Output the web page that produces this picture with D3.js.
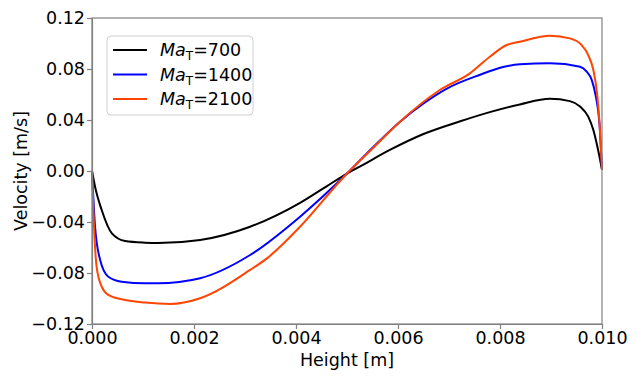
<!DOCTYPE html>
<html>
<head>
<meta charset="utf-8">
<script src="https://cdn.jsdelivr.net/npm/d3@7"></script>
<style>
  body { margin: 0; background: #fff; }
  svg { font-family: "DejaVu Sans", sans-serif; }
  .axis text { font-size: 17.5px; fill: #000; }
  .axis path, .axis line { stroke: #808080; stroke-width: 1.2; }
</style>
</head>
<body>
<svg id="chart" width="637" height="376"></svg>
<script>
// series data (height in m, velocity in m/s)
const height700 = [0, 0.00006, 0.00019, 0.00039, 0.00065, 0.00104, 0.0013, 0.00212, 0.0031, 0.00408, 0.0046, 0.005, 0.00525, 0.00584, 0.0065, 0.00722, 0.0078, 0.00839, 0.00898, 0.00937, 0.00957, 0.00973, 0.00983, 0.00991, 0.01];
const vel700 = [0, -0.0123, -0.0306, -0.0489, -0.0549, -0.0562, -0.0565, -0.0541, -0.0437, -0.025, -0.012, -0.002, 0.0034, 0.0165, 0.029, 0.039, 0.0462, 0.0522, 0.0566, 0.0548, 0.0506, 0.0426, 0.0321, 0.019, 0.001];

const height1400 = [0, 0.00006, 0.00016, 0.00032, 0.00058, 0.00104, 0.0013, 0.00212, 0.0031, 0.00408, 0.005, 0.00552, 0.00604, 0.0065, 0.00695, 0.00761, 0.00806, 0.00839, 0.00898, 0.00957, 0.0097, 0.0098, 0.00988, 0.00995, 0.01];
const vel1400 = [0, -0.0437, -0.0698, -0.0829, -0.0868, -0.0881, -0.0881, -0.0841, -0.0659, -0.0358, -0.002, 0.019, 0.0387, 0.053, 0.0645, 0.0755, 0.0815, 0.0838, 0.0845, 0.0818, 0.0779, 0.0713, 0.0583, 0.0374, 0.001];

const height2100 = [0, 0.00004, 0.00009, 0.00019, 0.00032, 0.00058, 0.00104, 0.00153, 0.00212, 0.0031, 0.00343, 0.00408, 0.00486, 0.005, 0.00552, 0.00604, 0.00682, 0.00741, 0.0078, 0.00813, 0.00839, 0.00898, 0.00937, 0.0096, 0.00973, 0.00983, 0.00991, 0.00996, 0.01];
const vel2100 = [0, -0.0437, -0.075, -0.0907, -0.0972, -0.1006, -0.1032, -0.1043, -0.0998, -0.0776, -0.0685, -0.0437, -0.008, -0.002, 0.0185, 0.0387, 0.0635, 0.0766, 0.0896, 0.0988, 0.1014, 0.1061, 0.104, 0.0988, 0.0909, 0.0792, 0.0583, 0.0321, 0.001];

const seriesNames = ["700", "1400", "2100"];
const seriesColors = ["#000000", "#0000ff", "#ff4500"];

const xTicks = [0, 0.002, 0.004, 0.006, 0.008, 0.010];
const yTicks = [-0.12, -0.08, -0.04, 0, 0.04, 0.08, 0.12];

const margin = { top: 18, right: 35, bottom: 52, left: 92 };
const width = 637 - margin.left - margin.right;
const height = 376 - margin.top - margin.bottom;

const svg = d3.select("#chart");
const g = svg.append("g").attr("transform", `translate(${margin.left},${margin.top})`);

const x = d3.scaleLinear().domain([0, 0.01]).range([0, width]);
const y = d3.scaleLinear().domain([-0.12, 0.12]).range([height, 0]);

const series = [
  { name: seriesNames[0], color: seriesColors[0], xs: height700, ys: vel700 },
  { name: seriesNames[1], color: seriesColors[1], xs: height1400, ys: vel1400 },
  { name: seriesNames[2], color: seriesColors[2], xs: height2100, ys: vel2100 }
];

const line = d3.line()
  .x(d => x(d[0]))
  .y(d => y(d[1]))
  .curve(d3.curveMonotoneX);

g.append("g").attr("class", "lines")
  .selectAll("path")
  .data(series)
  .enter().append("path")
  .attr("d", s => line(s.xs.map((h, i) => [h, s.ys[i]])))
  .attr("fill", "none")
  .attr("stroke", s => s.color)
  .attr("stroke-width", 2);

// frame (top/right spines)
g.append("rect")
  .attr("width", width).attr("height", height)
  .attr("fill", "none").attr("stroke", "#808080").attr("stroke-width", 1.2);

g.append("g").attr("class", "axis")
  .attr("transform", `translate(0,${height})`)
  .call(d3.axisBottom(x).tickValues(xTicks).tickFormat(d3.format(".3f")).tickSize(5).tickSizeOuter(0).tickPadding(3));

g.append("g").attr("class", "axis")
  .call(d3.axisLeft(y).tickValues(yTicks).tickFormat(d3.format(".2f")).tickSize(5).tickSizeOuter(0).tickPadding(2));

svg.selectAll(".axis text").attr("font-family", "DejaVu Sans, sans-serif");

svg.append("text")
  .attr("transform", `translate(21,${margin.top + height / 2}) rotate(-90)`)
  .attr("text-anchor", "middle")
  .attr("dominant-baseline", "central")
  .attr("font-size", "17.5px")
  .text("Velocity [m/s]");

svg.append("text")
  .attr("x", margin.left + width / 2)
  .attr("y", 366)
  .attr("text-anchor", "middle")
  .attr("font-size", "17.5px")
  .text("Height [m]");

// legend
const legend = svg.append("g").attr("transform", "translate(107,36)");
legend.append("rect")
  .attr("width", 146).attr("height", 79).attr("rx", 4)
  .attr("fill", "#fff").attr("stroke", "#d0d0d0").attr("stroke-width", 1);

const rows = legend.selectAll("g.row")
  .data(series)
  .enter().append("g").attr("class", "row")
  .attr("transform", (d, i) => `translate(0,${14 + i * 24.5})`);

rows.append("line")
  .attr("x1", 6).attr("x2", 40)
  .attr("stroke", d => d.color).attr("stroke-width", 2);

const lt = rows.append("text")
  .attr("x", 53).attr("y", 6)
  .attr("font-size", "17.5px");
lt.append("tspan").attr("font-style", "italic").text("Ma");
lt.append("tspan").attr("font-size", "12px").attr("dy", 4).text("T");
lt.append("tspan").attr("dy", -4).text(d => "=" + d.name);
</script>
</body>
</html>
